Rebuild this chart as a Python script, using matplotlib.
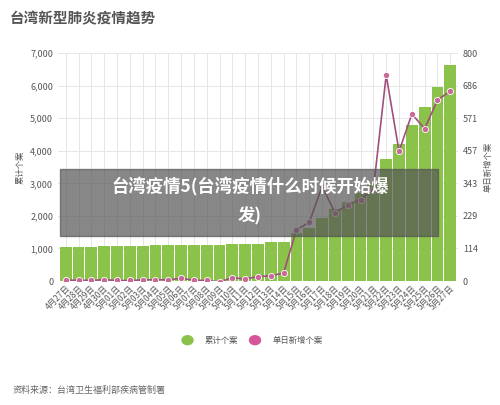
import matplotlib
matplotlib.use("Agg")
import matplotlib.pyplot as plt
from matplotlib.patches import Rectangle

plt.rcParams['font.family'] = ['Noto Sans CJK SC', 'DejaVu Sans']

dates = ["4月27日","4月28日","4月29日","4月30日","5月01日","5月02日","5月03日","5月04日","5月05日","5月06日",
         "5月07日","5月08日","5月09日","5月10日","5月11日","5月12日","5月13日","5月14日","5月15日","5月16日",
         "5月17日","5月18日","5月19日","5月20日","5月21日","5月22日","5月23日","5月24日","5月25日","5月26日","5月27日"]
cumulative = [1055,1060,1060,1065,1080,1080,1080,1095,1100,1110,1110,1115,1115,1130,1135,1150,1185,1200,1480,1640,
              1950,2200,2430,2700,3000,3750,4200,4785,5330,5950,6620]
daily = [3,3,2,5,2,2,4,5,4,10,3,2,-3,12,7,16,18,29,180,206,333,240,267,286,321,723,455,586,535,635,667]

green = '#8bc34a'
pink = '#c8699a'

fig = plt.figure(figsize=(5, 4.05), dpi=100)
ax = fig.add_axes([0.116, 0.306, 0.8, 0.563])
x = list(range(len(dates)))
ax.bar(x, cumulative, width=0.92, color=green, zorder=2)
ax.set_ylim(0, 7000)
ax.set_xlim(-0.6, len(dates) - 0.4)
ax.set_yticks(range(0, 7001, 1000))
ax.set_yticklabels(['0'] + [f'{v:,}' for v in range(1000, 7001, 1000)])
ax.set_xticks(x)
ax.set_xticklabels(dates, rotation=45, ha='right', rotation_mode='anchor', fontsize=6, color='#555555')
ax.tick_params(axis='y', labelsize=6.5, colors='#555555', length=0)
ax.tick_params(axis='x', length=0, pad=2)
ax.grid(True, color='#e6e6e6', lw=0.7, zorder=0)
for s in ax.spines.values():
    s.set_visible(False)
ax.set_ylabel('累计个案', fontsize=6, color='#555555')

ax2 = ax.twinx()
ax2.plot(x, daily, color='#a0507d', lw=1.2, marker='o', markersize=4.5,
         markerfacecolor=pink, markeredgecolor='white', markeredgewidth=0.6, zorder=3)
ax2.set_ylim(0, 800)
rt = [0, 114, 229, 343, 457, 571, 686, 800]
ax2.set_yticks([i * 800 / 7 for i in range(8)])
ax2.set_yticklabels([str(v) for v in rt])
ax2.tick_params(axis='y', labelsize=6.5, colors='#555555', length=0)
for s in ax2.spines.values():
    s.set_visible(False)
ax2.set_ylabel('单日新增个案', fontsize=6, color='#555555')

fig.text(0.02, 0.955, '台湾新型肺炎疫情趋势', fontsize=10.5, fontweight='bold', color='#555555', va='center')

# legend
fig.patches.append(plt.Circle((0.375, 0.16), 0.011, transform=fig.transFigure, color=green))
fig.text(0.41, 0.16, '累计个案', fontsize=6, color='#555555', va='center')
fig.patches.append(plt.Circle((0.51, 0.16), 0.011, transform=fig.transFigure, color='#d6559a'))
fig.text(0.545, 0.16, '单日新增个案', fontsize=6, color='#555555', va='center')

fig.text(0.025, 0.035, '资料来源：台湾卫生福利部疾病管制署', fontsize=6.5, color='#666666', va='center')

# overlay banner
fig.patches.append(Rectangle((0.12, 0.418), 0.756, 0.165, transform=fig.transFigure,
                             color='#555555', alpha=0.7, zorder=10))
fig.text(0.5, 0.539, '台湾疫情5(台湾疫情什么时候开始爆', fontsize=12.5, fontweight='bold',
         color='white', ha='center', va='center', zorder=11)
fig.text(0.5, 0.466, '发)', fontsize=12.5, fontweight='bold', color='white', ha='center', va='center', zorder=11)

fig.savefig('out.png', dpi=100)
